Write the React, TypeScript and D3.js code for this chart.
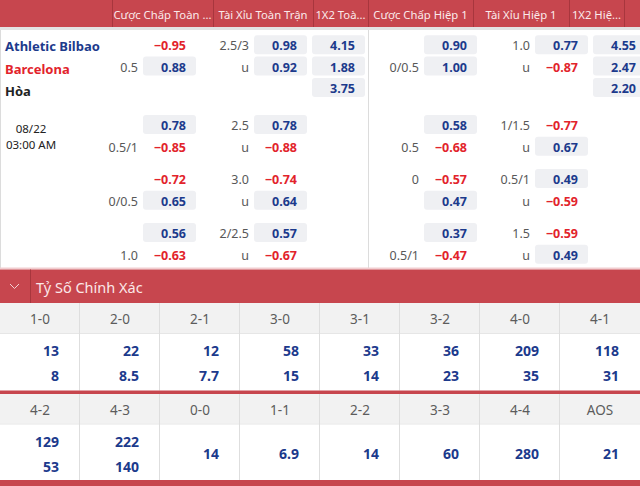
import React, { useEffect, useRef } from 'react';
import * as d3 from 'd3';

// header labels of the odds table
const headers = ['Cược Chấp Toàn ...', 'Tài Xỉu Toàn Trận', '1X2 Toà...', 'Cược Chấp Hiệp 1', 'Tài Xỉu Hiệp 1', '1X2 Hiệ...'];
const teams = ['Athletic Bilbao', 'Barcelona', 'Hòa'];
const matchDate = '08/22';
const matchTime = '03:00 AM';

// [home, away] per line set
const ftHdpLines = [['', '0.5'], ['', '0.5/1'], ['', '0/0.5'], ['', '1.0']];
const ftHdpOdds = [[-0.95, 0.88], [0.78, -0.85], [-0.72, 0.65], [0.56, -0.63]];
const ftOuLines = [['2.5/3', 'u'], ['2.5', 'u'], ['3.0', 'u'], ['2/2.5', 'u']];
const ftOuOdds = [[0.98, 0.92], [0.78, -0.88], [-0.74, 0.64], [0.57, -0.67]];
const ft1x2 = [4.15, 1.88, 3.75];
const h1HdpLines = [['', '0/0.5'], ['', '0.5'], ['0', ''], ['', '0.5/1']];
const h1HdpOdds = [[0.9, 1.0], [0.58, -0.68], [-0.57, 0.47], [0.37, -0.47]];
const h1OuLines = [['1.0', 'u'], ['1/1.5', 'u'], ['0.5/1', 'u'], ['1.5', 'u']];
const h1OuOdds = [[0.77, -0.87], [-0.77, 0.67], [0.49, -0.59], [-0.59, 0.49]];
const h11x2 = [4.55, 2.47, 2.2];

// correct score
const scoreTitle = 'Tỷ Số Chính Xác';
const scoresA = ['1-0', '2-0', '2-1', '3-0', '3-1', '3-2', '4-0', '4-1'];
const scoresAHome = [13, 22, 12, 58, 33, 36, 209, 118];
const scoresAAway = [8, 8.5, 7.7, 15, 14, 23, 35, 31];
const scoresB = ['4-2', '4-3', '0-0', '1-1', '2-2', '3-3', '4-4', 'AOS'];
const scoresBHome = [129, 222];
const scoresBAway = [53, 140];
const scoresBDraw = [14, 6.9, 14, 60, 280, 21];

const W = 640;
const H = 486;
const font = "'Noto Sans', sans-serif";
const blue = '#1c3a8c';
const red = '#e2232b';
const labelGray = '#585858';
const headRed = '#c7464e';
const darkRed = '#a8363d';
const pill = '#eff0f3';

export default function App() {
    const ref = useRef<SVGSVGElement>(null);

    useEffect(() => {
        const svg = d3.select(ref.current);
        svg.selectAll('*').remove();

        svg.append('rect').attr('width', W).attr('height', H).attr('fill', '#fff');

        // HEADER
        const edges = [0, 112, 213, 313, 368, 473, 569, 624, 640];
        svg.append('rect').attr('width', W).attr('height', 27).attr('fill', headRed);
        svg.append('rect').attr('y', 27).attr('width', W).attr('height', 3).attr('fill', '#e3e3e3');
        svg.selectAll('.hsep').data(edges.slice(1, 8)).enter()
            .append('line').attr('class', 'hsep')
            .attr('x1', d => d + 0.5).attr('x2', d => d + 0.5)
            .attr('y1', 0).attr('y2', 27)
            .attr('stroke', darkRed);
        svg.selectAll('.htxt').data(headers).enter()
            .append('text').attr('class', 'htxt')
            .attr('x', (d, i) => (edges[i + 1] + edges[i + 2]) / 2)
            .attr('y', 14)
            .attr('text-anchor', 'middle').attr('dominant-baseline', 'central')
            .attr('font-family', font).attr('font-size', 11.3)
            .attr('fill', '#fbeaeb')
            .text(d => d);

        // BODY frame
        svg.append('line').attr('x1', 0.5).attr('x2', 0.5).attr('y1', 30).attr('y2', 268).attr('stroke', '#dcdcdc');
        svg.append('line').attr('x1', 368.5).attr('x2', 368.5).attr('y1', 30).attr('y2', 268).attr('stroke', '#dcdcdc');

        // row positions
        const setY = d3.scaleLinear().domain([1, 3]).range([125.5, 233.5]);
        const rowY = (set: number, r: number) => set === 0 ? 45.8 + r * 21.3 : setY(set) + r * 21.7;
        const fmt = d3.format('.2f');

        // team names
        const teamColors = [blue, red, '#222'];
        svg.selectAll('.team').data(teams).enter()
            .append('text').attr('class', 'team')
            .attr('x', 5).attr('y', (d, i) => 45.8 + i * 22.8)
            .attr('dominant-baseline', 'central')
            .attr('font-family', font).attr('font-size', 13).attr('font-weight', 700)
            .attr('fill', (d, i) => teamColors[i])
            .text(d => d);

        svg.append('text').attr('x', 31).attr('y', 128.2).attr('text-anchor', 'middle').attr('dominant-baseline', 'central')
            .attr('font-family', font).attr('font-size', 11.5).attr('fill', '#222').text(matchDate);
        svg.append('text').attr('x', 31).attr('y', 144.4).attr('text-anchor', 'middle').attr('dominant-baseline', 'central')
            .attr('font-family', font).attr('font-size', 11.5).attr('fill', '#222').text(matchTime);

        const boxW = 53;
        const drawCell = (g: any, box: number, cy: number, value: number, label: string) => {
            if (value >= 0) {
                g.append('rect').attr('x', box).attr('y', cy - 10.5).attr('width', boxW).attr('height', 19)
                    .attr('rx', 3).attr('fill', pill);
            }
            g.append('text').attr('x', box + 43).attr('y', cy)
                .attr('text-anchor', 'end').attr('dominant-baseline', 'central')
                .attr('font-family', font).attr('font-size', 12.5).attr('font-weight', 700)
                .attr('fill', value >= 0 ? blue : red)
                .text(fmt(value));
            if (label) {
                g.append('text').attr('x', box - 5).attr('y', cy)
                    .attr('text-anchor', 'end').attr('dominant-baseline', 'central')
                    .attr('font-family', font).attr('font-size', 12.5)
                    .attr('fill', labelGray)
                    .text(label);
            }
        };

        const markets = [
            { lines: ftHdpLines, odds: ftHdpOdds, box: 143 },
            { lines: ftOuLines, odds: ftOuOdds, box: 254 },
            { lines: h1HdpLines, odds: h1HdpOdds, box: 424 },
            { lines: h1OuLines, odds: h1OuOdds, box: 535 },
        ];
        const cells = svg.append('g');
        markets.forEach(m => {
            m.odds.forEach((pair, s) => {
                pair.forEach((v, r) => drawCell(cells, m.box, rowY(s, r), v, m.lines[s][r]));
            });
        });
        ft1x2.forEach((v, r) => drawCell(cells, 312, rowY(0, r), v, ''));
        h11x2.forEach((v, r) => drawCell(cells, 593, rowY(0, r), v, ''));

        // CORRECT SCORE BAR
        svg.append('rect').attr('y', 267.5).attr('width', W).attr('height', 2).attr('fill', '#f1cdd0');
        svg.append('rect').attr('y', 269.5).attr('width', W).attr('height', 33.5).attr('fill', headRed);
        svg.append('line').attr('x1', 30.5).attr('x2', 30.5).attr('y1', 269.5).attr('y2', 303).attr('stroke', darkRed);
        svg.append('path').attr('d', 'M10,284 L14.5,288.5 L19,284').attr('fill', 'none')
            .attr('stroke', '#f3d2d4').attr('stroke-width', 1);
        svg.append('text').attr('x', 36).attr('y', 286.5).attr('dominant-baseline', 'central')
            .attr('font-family', font).attr('font-size', 14.5).attr('fill', '#fbe7e8').text(scoreTitle);

        const x = d3.scaleBand<number>().domain(d3.range(8)).range([0, W]);

        const drawBlock = (top: number, headH: number, bottom: number, labels: string[]) => {
            svg.append('rect').attr('y', top).attr('width', W).attr('height', headH).attr('fill', '#f2f2f2');
            svg.append('line').attr('x1', 0).attr('x2', W).attr('y1', top + headH + 0.5).attr('y2', top + headH + 0.5).attr('stroke', '#e6e6e6');
            svg.selectAll(null).data(d3.range(1, 8)).enter()
                .append('line')
                .attr('x1', d => (x(d) as number) - 0.5).attr('x2', d => (x(d) as number) - 0.5)
                .attr('y1', top).attr('y2', bottom)
                .attr('stroke', '#dedede');
            svg.selectAll(null).data(labels).enter()
                .append('text')
                .attr('x', (d, i) => (x(i) as number) + x.bandwidth() / 2)
                .attr('y', top + headH / 2 + 1)
                .attr('text-anchor', 'middle').attr('dominant-baseline', 'central')
                .attr('font-family', font).attr('font-size', 13.5).attr('fill', '#5c5c5c')
                .text(d => d);
        };
        const drawValues = (vals: number[], offset: number, cy: number) => {
            svg.selectAll(null).data(vals).enter()
                .append('text')
                .attr('x', (d, i) => (x(i + offset) as number) + 59)
                .attr('y', cy)
                .attr('text-anchor', 'end').attr('dominant-baseline', 'central')
                .attr('font-family', font).attr('font-size', 14).attr('font-weight', 700)
                .attr('fill', blue)
                .text(d => d);
        };

        drawBlock(303, 30, 390.5, scoresA);
        drawValues(scoresAHome, 0, 350);
        drawValues(scoresAAway, 0, 375);
        svg.append('rect').attr('y', 390.5).attr('width', W).attr('height', 3.5).attr('fill', headRed);

        drawBlock(394, 29.5, 480, scoresB);
        drawValues(scoresBHome, 0, 441.7);
        drawValues(scoresBAway, 0, 466);
        drawValues(scoresBDraw, 2, 453);
        svg.append('rect').attr('y', 480).attr('width', W).attr('height', 6).attr('fill', headRed);
    }, []);

    return (
        <svg ref={ref} width={W} height={H}
            style={{ position: 'absolute', left: 0, top: 0, display: 'block' }} />
    );
}
